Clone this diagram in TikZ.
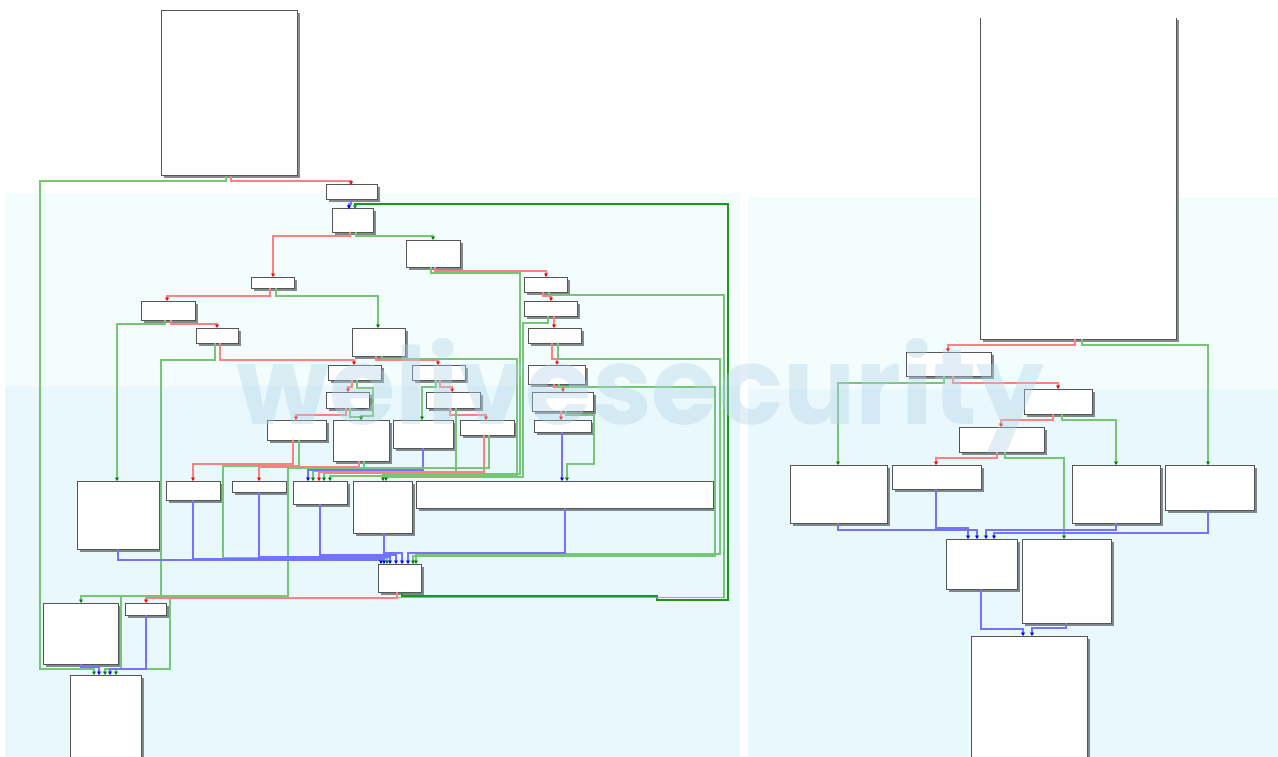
\documentclass[tikz,border=0pt]{standalone}
\usepackage{fontspec}
\usepackage{graphicx}
\newfontfamily\wmfont{Poppins}
\usetikzlibrary{arrows.meta,shadows}
\definecolor{bgA}{RGB}{243,253,254}
\definecolor{bgB}{RGB}{232,248,253}
\definecolor{lred}{RGB}{255,128,128}
\definecolor{lgreen}{RGB}{118,198,118}
\definecolor{dgreen}{RGB}{30,150,30}
\definecolor{lblue}{RGB}{115,115,255}
\definecolor{wm}{RGB}{178,212,230}
\definecolor{bord}{RGB}{85,85,85}
\newcommand\blkn[5]{\node[blk,minimum width=#4pt,minimum height=#5pt] (#1) at (#2,#3) {};}
\tikzset{
 blk/.style={draw=bord, fill=white, line width=1pt, inner sep=0pt, outer sep=0pt, anchor=north west,
   drop shadow={shadow xshift=2.5pt, shadow yshift=-2.5pt, opacity=0.45, fill=black}},
 er/.style={draw=lred, line width=1.25pt, -{Triangle[length=3.5pt,width=3.8pt,color=red]}},
 eg/.style={draw=lgreen, line width=1.25pt, -{Triangle[length=3.5pt,width=3.8pt,color=green!50!black]}},
 edg/.style={draw=dgreen, line width=1.5pt, -{Triangle[length=3.5pt,width=3.8pt,color=dgreen]}},
 eb/.style={draw=lblue, line width=1.25pt, -{Triangle[length=3.5pt,width=3.8pt,color=blue]}},
}
\begin{document}
\begin{tikzpicture}[x=1pt,y=-1pt]
\useasboundingbox (0,0) rectangle (1278,757);
\fill[white] (0,0) rectangle (1278,757);
% panels
\fill[bgA] (5,193) rectangle (740,386);
\fill[bgB] (5,386) rectangle (740,757);
\fill[bgA] (748,197) rectangle (1278,389);
\fill[bgB] (748,389) rectangle (1278,757);

% ---------------- left graph nodes
\blkn{n1}{161}{11}{136}{165}
\blkn{n2}{326}{185}{51}{15}
\blkn{n3}{332}{209}{41}{23}
\blkn{n4}{406}{240}{54}{27}
\blkn{n5}{251}{277}{43}{11}
\blkn{n6}{141}{301}{54}{19}
\blkn{n7}{196}{328}{42}{15}
\blkn{n8}{352}{328}{53}{28}
\blkn{n9}{328}{365}{53}{15}
\blkn{n10}{326}{392}{43}{16}
\blkn{n11}{412}{365}{53}{15}
\blkn{n12}{426}{392}{54}{16}
\blkn{n13}{524}{277}{43}{15}
\blkn{n14}{524}{301}{53}{15}
\blkn{n15}{528}{328}{53}{15}
\blkn{n16}{528}{365}{57}{19}
\blkn{n17}{532}{392}{61}{19}
\blkn{n18}{534}{420}{57}{12}
\blkn{n19}{267}{420}{59}{20}
\blkn{n20}{333}{420}{56}{41}
\blkn{n21}{393}{420}{60}{28}
\blkn{n22}{460}{420}{54}{15}
\blkn{n23}{77}{481}{82}{68}
\blkn{n24}{166}{481}{54}{19}
\blkn{n25}{232}{481}{54}{11}
\blkn{n26}{293}{481}{54}{23}
\blkn{n27}{353}{481}{59}{52}
\blkn{n28}{416}{481}{297}{27}
\blkn{n29}{378}{564}{43}{28}
\blkn{n30}{43}{603}{75}{61}
\blkn{n31}{125}{603}{41}{12}
\blkn{n32}{70}{675}{71}{100}

% ---------------- right graph nodes
\node[fill=white, inner sep=0pt, outer sep=0pt, anchor=north west, minimum width=196pt, minimum height=321pt,
  drop shadow={shadow xshift=2.5pt, shadow yshift=-2.5pt, opacity=0.45, fill=black}] (r1) at (980,18) {};
\draw[bord, line width=1pt] (r1.north west) -- (r1.south west) -- (r1.south east) -- (r1.north east);
\blkn{r2}{906}{352}{85}{24}
\blkn{r3}{1024}{389}{68}{25}
\blkn{r4}{959}{427}{85}{25}
\blkn{r5}{790}{465}{97}{58}
\blkn{r6}{892}{465}{89}{24}
\blkn{r7}{1072}{465}{88}{58}
\blkn{r8}{1165}{465}{89}{45}
\blkn{r9}{946}{539}{71}{50}
\blkn{r10}{1022}{539}{89}{84}
\blkn{r11}{971}{636}{116}{140}

% ---------------- right graph edges
\draw[er] ([xshift=95pt]r1.south west) |- (948,345) -- ([xshift=42pt]r2.north west);
\draw[eg] ([xshift=102pt]r1.south west) |- (1208,345) -- ([xshift=43pt]r8.north west);
\draw[er] ([xshift=47pt]r2.south west) |- (1058,383) -- ([xshift=34pt]r3.north west);
\draw[eg] ([xshift=38pt]r2.south west) |- (838,383) -- ([xshift=48pt]r5.north west);
\draw[er] ([xshift=29pt]r3.south west) |- (1001,420) -- ([xshift=42pt]r4.north west);
\draw[eg] ([xshift=38pt]r3.south west) |- (1116,420) -- ([xshift=44pt]r7.north west);
\draw[er] ([xshift=38pt]r4.south west) |- (936,458) -- ([xshift=44pt]r6.north west);
\draw[eg] ([xshift=46pt]r4.south west) |- (1064,458) -- ([xshift=42pt]r10.north west);
\draw[eb] ([xshift=48pt]r5.south west) |- (977,530) -- ([xshift=31pt]r9.north west);
\draw[eb] ([xshift=44pt]r6.south west) |- (968,528) -- ([xshift=22pt]r9.north west);
\draw[eb] ([xshift=44pt]r7.south west) |- (986,530) -- ([xshift=40pt]r9.north west);
\draw[eb] ([xshift=43pt]r8.south west) |- (994,533) -- ([xshift=48pt]r9.north west);
\draw[eb] ([xshift=35pt]r9.south west) |- (1023,629) -- ([xshift=52pt]r11.north west);
\draw[eb] ([xshift=44pt]r10.south west) |- (1032,628) -- ([xshift=61pt]r11.north west);

% ---------------- left graph edges
\draw[er] ([xshift=70pt]n1.south west) |- (351,181) -- ([xshift=25pt]n2.north west);
\draw[eg] ([xshift=65pt]n1.south west) |- (40,181) |- (94,669) -- ([xshift=24pt]n32.north west);
\draw[eb] ([xshift=25pt]n2.south west) -- ++(0,4) -| ([xshift=17pt]n3.north west);
\draw[edg] ([xshift=24pt]n29.south west) |- (657,596) |- (728,600) |- (355,204) -- ([xshift=23pt]n3.north west);
\draw[er] ([xshift=18pt]n3.south west) |- (273,236) -- ([xshift=22pt]n5.north west);
\draw[eg] ([xshift=24pt]n3.south west) |- (433,236) -- ([xshift=27pt]n4.north west);
\draw[er] ([xshift=29pt]n4.south west) |- (546,271) -- ([xshift=22pt]n13.north west);
\draw[eg] ([xshift=25pt]n4.south west) |- (520,273) |- (383,474) -- ([xshift=30pt]n27.north west);
\draw[er] ([xshift=19pt]n5.south west) |- (167,296) -- ([xshift=26pt]n6.north west);
\draw[eg] ([xshift=25pt]n5.south west) |- (378,296) -- ([xshift=26pt]n8.north west);
\draw[er] ([xshift=30pt]n6.south west) |- (217,324) -- ([xshift=21pt]n7.north west);
\draw[eg] ([xshift=24pt]n6.south west) |- (117,324) -- ([xshift=40pt]n23.north west);
\draw[er] ([xshift=24pt]n7.south west) |- (354,360) -- ([xshift=26pt]n9.north west);
\draw[eg] ([xshift=19pt]n7.south west) |- (161,360) |- (121,596) |- (105,669) -- ([xshift=35pt]n32.north west);
\draw[er] ([xshift=24pt]n8.south west) |- (438,360) -- ([xshift=26pt]n11.north west);
\draw[eg] ([xshift=30pt]n8.south west) |- (517,359) |- (330,476) -- ([xshift=37pt]n26.north west);
\draw[er] ([xshift=24pt]n9.south west) |- (348,387) -- ([xshift=22pt]n10.north west);
\draw[eg] ([xshift=29pt]n9.south west) |- (373,388) |- (361,416) -- ([xshift=28pt]n20.north west);
\draw[er] ([xshift=20pt]n10.south west) |- (296,415) -- ([xshift=29pt]n19.north west);
\draw[eg] ([xshift=24pt]n10.south west) |- (361,417) -- ([xshift=28pt]n20.north west);
\draw[er] ([xshift=28pt]n11.south west) |- (452,387) -- ([xshift=26pt]n12.north west);
\draw[eg] ([xshift=24pt]n11.south west) |- (422,387) -- ([xshift=29pt]n21.north west);
\draw[er] ([xshift=24pt]n12.south west) |- (486,415) -- ([xshift=26pt]n22.north west);
\draw[eg] ([xshift=30pt]n12.south west) |- (324,473) -- ([xshift=31pt]n26.north west);
\draw[er] ([xshift=19pt]n13.south west) |- (551,296) -- ([xshift=27pt]n14.north west);
\draw[eg] ([xshift=25pt]n13.south west) |- (724,295) |- (170,597.5) |- (116,669) -- ([xshift=46pt]n32.north west);
\draw[er] ([xshift=30pt]n14.south west) -- ([xshift=26pt]n15.north west);
\draw[eg] ([xshift=24pt]n14.south west) |- (523,323) |- (386,477) -- ([xshift=33pt]n27.north west);
\draw[er] ([xshift=24pt]n15.south west) |- (557,359) -- ([xshift=29pt]n16.north west);
\draw[eg] ([xshift=30pt]n15.south west) |- (720,359) |- (416,554) -- ([xshift=38pt]n29.north west);
\draw[er] ([xshift=26pt]n16.south west) |- (563,387) -- ([xshift=31pt]n17.north west);
\draw[eg] ([xshift=31pt]n16.south west) |- (715,387) |- (413,556) -- ([xshift=35pt]n29.north west);
\draw[er] ([xshift=29pt]n17.south west) -- ([xshift=27pt]n18.north west);
\draw[eg] ([xshift=34pt]n17.south west) |- (594,415) |- (567,464) -- ([xshift=151pt]n28.north west);
\draw[eb] ([xshift=28pt]n18.south west) -- ([xshift=146pt]n28.north west);
\draw[er] ([xshift=26pt]n19.south west) |- (193,464) -- ([xshift=27pt]n24.north west);
\draw[eg] ([xshift=32pt]n19.south west) |- (223,466) |- (387,558) -- ([xshift=9pt]n29.north west);
\draw[er] ([xshift=26pt]n20.south west) |- (259,467) -- ([xshift=27pt]n25.north west);
\draw[eg] ([xshift=31pt]n20.south west) |- (313,471) -- ([xshift=20pt]n26.north west);
\draw[eb] ([xshift=30pt]n21.south west) |- (308,470) -- ([xshift=15pt]n26.north west);
\draw[er] ([xshift=24pt]n22.south west) |- (319,472) -- ([xshift=26pt]n26.north west);
\draw[eg] ([xshift=29pt]n22.south west) |- (288,468) |- (81,596) -- ([xshift=38pt]n30.north west);
\draw[eb] ([xshift=41pt]n23.south west) |- (381,560) -- ([xshift=3pt]n29.north west);
\draw[eb] ([xshift=27pt]n24.south west) |- (384,559) -- ([xshift=6pt]n29.north west);
\draw[eb] ([xshift=27pt]n25.south west) |- (390,557) -- ([xshift=12pt]n29.north west);
\draw[eb] ([xshift=27pt]n26.south west) |- (396,555) -- ([xshift=18pt]n29.north west);
\draw[eb] ([xshift=31pt]n27.south west) |- (402,553) -- ([xshift=24pt]n29.north west);
\draw[eb] ([xshift=149pt]n28.south west) |- (408,553) -- ([xshift=30pt]n29.north west);
\draw[er] ([xshift=19pt]n29.south west) |- (146,598) -- ([xshift=21pt]n31.north west);
\draw[eb] ([xshift=38pt]n30.south west) |- (99,667) -- ([xshift=29pt]n32.north west);
\draw[eb] ([xshift=21pt]n31.south west) |- (110,669) -- ([xshift=40pt]n32.north west);

% ---------------- watermark
\node[anchor=base west, inner sep=0pt, text=wm, opacity=0.38] (wmark) at (236,424)
  {\resizebox{808pt}{!}{\wmfont\bfseries welivesecurity}};
\end{tikzpicture}
\end{document}
